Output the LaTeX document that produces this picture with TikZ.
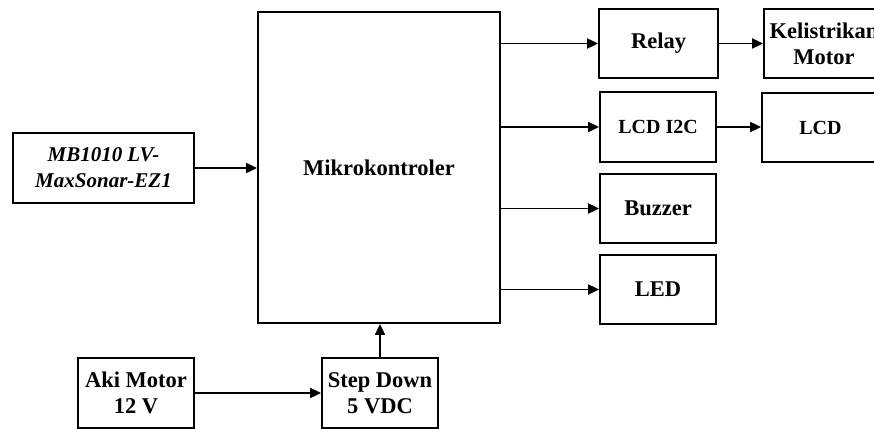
\documentclass[tikz,border=0pt]{standalone}
\usepackage{fontspec}
\setmainfont{Liberation Serif}
\usetikzlibrary{arrows.meta}

\begin{document}
\begin{tikzpicture}[
    x=1pt, y=-1pt,
    block/.style={rectangle, draw, line width=1.8pt, inner sep=0pt, align=center, font=\fontsize{22.5}{26}\selectfont\bfseries, minimum width=116pt, minimum height=69pt},
    small/.style={font=\fontsize{20}{24}\selectfont\bfseries},
    line/.style={draw, line width=1.8pt, -{Triangle[length=11pt,width=10pt]}}
]
    \useasboundingbox (0,0) rectangle (874,428);

    \node [block, minimum width=242pt, minimum height=311pt] (mikro) at (379,167.5) {Mikrokontroler};
    \node [block, minimum width=181pt, minimum height=70pt, font=\fontsize{21}{26}\selectfont\bfseries\itshape] (sonar) at (103.5,168) {MB1010 LV-\\MaxSonar-EZ1};

    \node [block, minimum width=119pt] (relay) at (658.5,43.5) {Relay};
    \node [block, minimum width=120pt] (listrik) at (824,43.5) {Kelistrikan\\Motor};
    \node [block, small, minimum height=70pt] (lcdi2c) at (658,127) {LCD I2C};
    \node [block, small, minimum width=117pt] (lcd) at (820.5,127.5) {LCD};
    \node [block] (buzzer) at (658,208.5) {Buzzer};
    \node [block] (led) at (658,289.5) {LED};

    \node [block, minimum height=70pt] (aki) at (136,393) {Aki Motor\\12 V};
    \node [block, minimum height=70pt] (stepdown) at (380,393) {Step Down\\5 VDC};

    \draw [line] (sonar.east) -- (sonar.east -| mikro.west);
    \draw [line] (mikro.east |- relay.west) -- (relay.west);
    \draw [line] (mikro.east |- lcdi2c.west) -- (lcdi2c.west);
    \draw [line] (mikro.east |- buzzer.west) -- (buzzer.west);
    \draw [line] (mikro.east |- led.west) -- (led.west);
    \draw [line] (relay.east) -- (listrik.west);
    \draw [line] (lcdi2c.east) -- (lcdi2c.east -| lcd.west);
    \draw [line] (aki.east) -- (stepdown.west);
    \draw [line] (stepdown.north) -- (stepdown.north |- mikro.south);
\end{tikzpicture}
\end{document}
